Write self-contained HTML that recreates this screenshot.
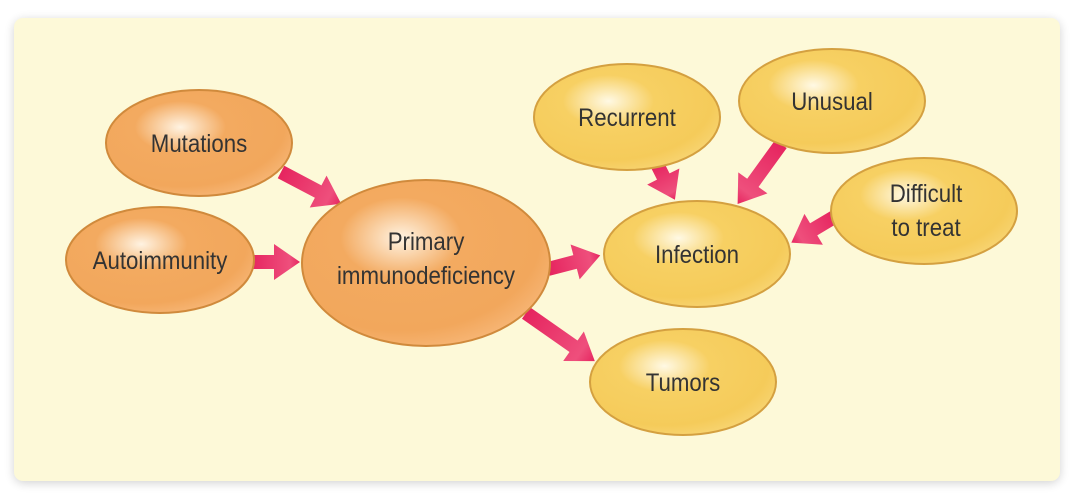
<!DOCTYPE html>
<html><head><meta charset="utf-8"><style>
html,body{margin:0;padding:0;background:#fff;width:1080px;height:502px;overflow:hidden}
svg{display:block}
text{font-family:"Liberation Sans",sans-serif;font-size:25px;fill:#333;text-anchor:middle}
</style></head><body>
<svg width="1080" height="502" viewBox="0 0 1080 502" xmlns="http://www.w3.org/2000/svg">
<defs>
<filter id="sh" x="-5%" y="-5%" width="110%" height="115%"><feGaussianBlur stdDeviation="5"/></filter>
<radialGradient id="og" cx="0.4" cy="0.35" r="0.7">
<stop offset="0" stop-color="#fff3e2"/><stop offset="0.35" stop-color="#f3aa60"/><stop offset="0.8" stop-color="#f2a75c"/><stop offset="1" stop-color="#f7b778"/></radialGradient>
<radialGradient id="yg" cx="0.4" cy="0.35" r="0.7">
<stop offset="0" stop-color="#fff9e4"/><stop offset="0.35" stop-color="#f7d063"/><stop offset="0.8" stop-color="#f5cb5a"/><stop offset="1" stop-color="#f8d574"/></radialGradient>
<linearGradient id="ag" x1="0" y1="0" x2="1" y2="0"><stop offset="0" stop-color="#e6245f"/><stop offset="0.8" stop-color="#ee4f7c"/><stop offset="1" stop-color="#e6245f"/></linearGradient>
</defs>
<rect x="14" y="20" width="1046" height="463" rx="10" fill="#000" opacity="0.18" filter="url(#sh)"/>
<rect x="14" y="18" width="1046" height="463" rx="9" fill="#fdf9d8"/>
<g fill="url(#ag)">
<g transform="translate(281,172) rotate(27.8)"><polygon points="0,-7 42,-7 42,-18 68,0 42,18 42,7 0,7"/></g>
<g transform="translate(250,262) rotate(0)"><polygon points="0,-7 24,-7 24,-18 50,0 24,18 24,7 0,7"/></g>
<g transform="translate(548,269) rotate(-14.6)"><polygon points="0,-7 28,-7 28,-18 54,0 28,18 28,7 0,7"/></g>
<g transform="translate(526,313) rotate(35)"><polygon points="0,-7 58,-7 58,-18 84,0 58,18 58,7 0,7"/></g>
<g transform="translate(657,164) rotate(63.4)"><polygon points="0,-7 14,-7 14,-18 40,0 14,18 14,7 0,7"/></g>
<g transform="translate(781,144) rotate(125.9)"><polygon points="0,-7 48,-7 48,-18 74,0 48,18 48,7 0,7"/></g>
<g transform="translate(836,216) rotate(149.2)"><polygon points="0,-7 26,-7 26,-18 52,0 26,18 26,7 0,7"/></g>
</g>
<g stroke="#d08a3c" stroke-width="2">
<ellipse cx="199" cy="143" rx="93" ry="53" fill="url(#og)"/>
<ellipse cx="160" cy="260" rx="94" ry="53" fill="url(#og)"/>
<ellipse cx="426" cy="263" rx="124" ry="83" fill="url(#og)"/>
</g>
<g stroke="#d4a040" stroke-width="2">
<ellipse cx="627" cy="117" rx="93" ry="53" fill="url(#yg)"/>
<ellipse cx="832" cy="101" rx="93" ry="52" fill="url(#yg)"/>
<ellipse cx="924" cy="211" rx="93" ry="53" fill="url(#yg)"/>
<ellipse cx="697" cy="254" rx="93" ry="53" fill="url(#yg)"/>
<ellipse cx="683" cy="382" rx="93" ry="53" fill="url(#yg)"/>
</g>
<g transform="translate(199,0) scale(0.89,1)"><text x="0" y="152">Mutations</text></g>
<g transform="translate(160,0) scale(0.89,1)"><text x="0" y="269">Autoimmunity</text></g>
<g transform="translate(426,0) scale(0.89,1)"><text x="0" y="250">Primary</text><text x="0" y="284">immunodeficiency</text></g>
<g transform="translate(627,0) scale(0.89,1)"><text x="0" y="126">Recurrent</text></g>
<g transform="translate(832,0) scale(0.89,1)"><text x="0" y="110">Unusual</text></g>
<g transform="translate(926,0) scale(0.89,1)"><text x="0" y="202">Difficult</text><text x="0" y="236">to treat</text></g>
<g transform="translate(697,0) scale(0.89,1)"><text x="0" y="263">Infection</text></g>
<g transform="translate(683,0) scale(0.89,1)"><text x="0" y="391">Tumors</text></g>
</svg>
</body></html>
